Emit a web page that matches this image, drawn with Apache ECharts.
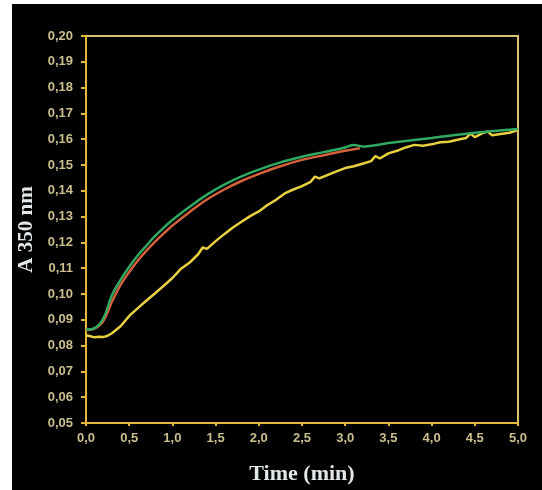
<!DOCTYPE html>
<html>
<head>
<meta charset="utf-8">
<script src="https://cdn.jsdelivr.net/npm/echarts@6/dist/echarts.min.js"></script>
<style>
  html, body { margin: 0; padding: 0; background: #fff; }
  #chart { width: 542px; height: 490px; }
</style>
</head>
<body>
<div id="chart"></div>
<script>
// values (time in min, absorbance at 350 nm)
var greenTime = [0, 0.1, 0.2, 0.3, 0.4, 0.5, 0.6, 0.7, 0.8, 0.9, 1.0, 1.2, 1.4, 1.6, 1.8, 2.0, 2.25, 2.5, 2.75, 3.0, 3.1, 3.2, 3.5, 4.0, 4.5, 5.0]
var greenAbs = [0.0862, 0.0868, 0.0905, 0.0995, 0.1055, 0.1105, 0.115, 0.1188, 0.1225, 0.1257, 0.1287, 0.1338, 0.1385, 0.1424, 0.1456, 0.1482, 0.151, 0.1532, 0.155, 0.1568, 0.1578, 0.1572, 0.1585, 0.1605, 0.1625, 0.164]

var redTime = [0, 0.1, 0.2, 0.3, 0.4, 0.5, 0.6, 0.7, 0.8, 0.9, 1.0, 1.2, 1.4, 1.6, 1.8, 2.0, 2.25, 2.5, 2.75, 3.0, 3.17]
var redAbs = [0.086, 0.0866, 0.0895, 0.097, 0.1035, 0.1085, 0.113, 0.1168, 0.1203, 0.1235, 0.1265, 0.1318, 0.1366, 0.1405, 0.1438, 0.1465, 0.1495, 0.152, 0.1538, 0.1555, 0.1565]

var yellowTime = [0, 0.05, 0.1, 0.15, 0.2, 0.25, 0.3, 0.4, 0.5, 0.6, 0.7, 0.8, 0.9, 1.0, 1.05, 1.1, 1.2, 1.3, 1.35, 1.4, 1.5, 1.6, 1.7, 1.8, 1.9, 2.0, 2.1, 2.2, 2.3, 2.4, 2.5, 2.6, 2.65, 2.7, 2.8, 2.9, 3.0, 3.1, 3.2, 3.3, 3.35, 3.4, 3.5, 3.6, 3.7, 3.8, 3.9, 4.0, 4.1, 4.2, 4.3, 4.4, 4.45, 4.5, 4.6, 4.65, 4.7, 4.8, 4.9, 5.0]
var yellowAbs = [0.084, 0.0836, 0.0832, 0.0834, 0.0833, 0.0838, 0.0848, 0.0875, 0.0915, 0.0945, 0.0975, 0.1003, 0.1032, 0.1062, 0.108, 0.1098, 0.1122, 0.1155, 0.118, 0.1175, 0.1205, 0.1232, 0.1258, 0.128, 0.1302, 0.132, 0.1345, 0.1365, 0.139, 0.1405, 0.1418, 0.1435, 0.1455, 0.1448, 0.1462, 0.1475, 0.1488, 0.1495, 0.1505, 0.1515, 0.1535, 0.1525, 0.1545, 0.1555, 0.1568, 0.1578, 0.1575, 0.158, 0.1588, 0.159, 0.1598, 0.1605, 0.1622, 0.1608, 0.1625, 0.163, 0.1615, 0.162, 0.1625, 0.1635]

function pairs(xs, ys) {
  return xs.map(function (x, i) { return [x, ys[i]] })
}

var labelColor = '#cbbf8e'
var axisColor = '#e6b83a'

var chart = echarts.init(document.getElementById('chart'))
chart.setOption({
  backgroundColor: '#ffffff',
  animation: false,
  graphic: [
    { type: 'rect', z: -10, shape: { x: 12, y: 4, width: 530, height: 486 }, style: { fill: '#000' } }
  ],
  grid: {
    left: 86, right: 24, top: 36, bottom: 59,
    show: true, borderColor: '#dcc270', borderWidth: 2, backgroundColor: 'transparent'
  },
  xAxis: {
    type: 'value',
    min: 0, max: 5, interval: 0.5,
    name: 'Time (min)',
    nameLocation: 'middle',
    nameGap: 40,
    nameTextStyle: { color: '#e2e8ea', fontFamily: 'Liberation Serif', fontWeight: 'bold', fontSize: 22 },
    axisLine: { lineStyle: { color: axisColor, width: 2 } },
    axisTick: { length: 3, lineStyle: { color: axisColor, width: 2 } },
    axisLabel: {
      color: labelColor, fontFamily: 'Liberation Sans', fontWeight: 'bold', fontSize: 13, margin: 9,
      formatter: function (v) { return v.toFixed(1).replace('.', ',') }
    },
    splitLine: { show: false }
  },
  yAxis: {
    type: 'value',
    min: 0.05, max: 0.20, interval: 0.01,
    name: 'A 350 nm',
    nameLocation: 'middle',
    nameGap: 48,
    nameRotate: 90,
    nameTextStyle: { color: '#e2e8ea', fontFamily: 'Liberation Serif', fontWeight: 'bold', fontSize: 21 },
    axisLine: { lineStyle: { color: axisColor, width: 2 } },
    axisTick: { length: 5, lineStyle: { color: axisColor, width: 2 } },
    axisLabel: {
      color: labelColor, fontFamily: 'Liberation Sans', fontWeight: 'bold', fontSize: 13, margin: 13,
      formatter: function (v) { return v.toFixed(2).replace('.', ',') }
    },
    splitLine: { show: false }
  },
  series: [
    {
      name: 'yellow', type: 'line', data: pairs(yellowTime, yellowAbs),
      showSymbol: false, lineStyle: { color: '#e8d040', width: 2.5 }, z: 2
    },
    {
      name: 'red', type: 'line', data: pairs(redTime, redAbs), smooth: 0.4,
      showSymbol: false, lineStyle: { color: '#d4603c', width: 2.5 }, z: 3
    },
    {
      name: 'green', type: 'line', data: pairs(greenTime, greenAbs), smooth: 0.4,
      showSymbol: false, lineStyle: { color: '#2fa862', width: 2.5 }, z: 4
    }
  ]
})
</script>
</body>
</html>
